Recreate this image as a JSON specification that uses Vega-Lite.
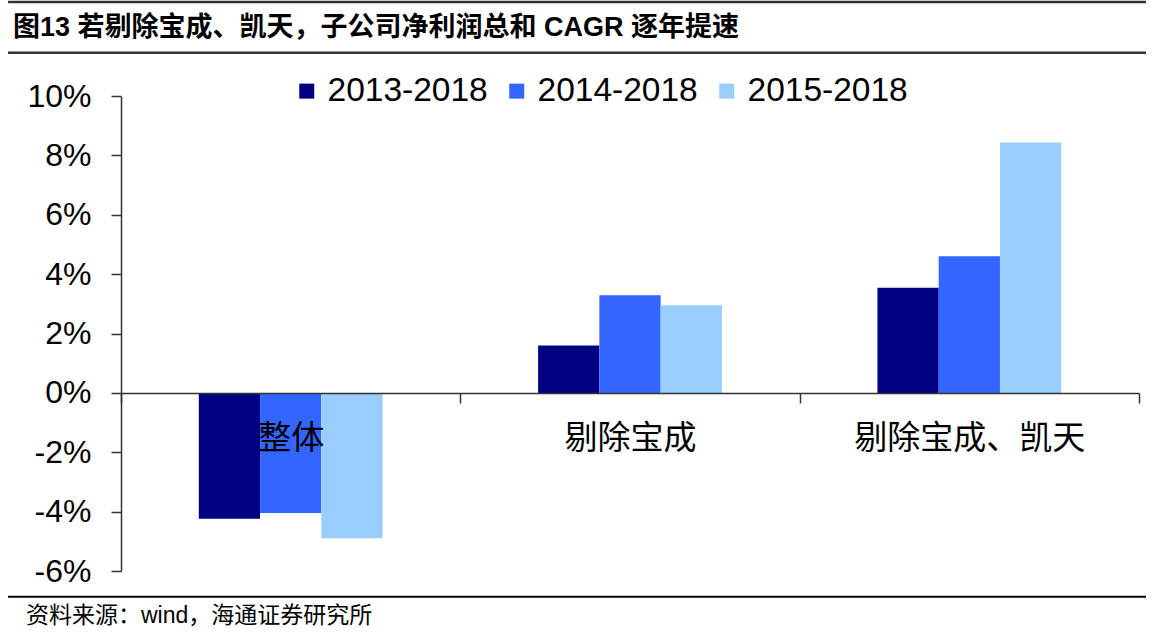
{
  "$schema": "https://vega.github.io/schema/vega-lite/v6.json",
  "background": "white",
  "padding": {"left": 6, "top": 0, "right": 7, "bottom": 0},
  "spacing": 0,
  "resolve": {"legend": {"color": "independent"}},
  "config": {"view": {"stroke": null}, "font": "Liberation Sans, Noto Sans CJK SC"},
  "datasets": {
    "bars": [
      {"cat": "整体", "period": "2013-2018", "value": -4.24},
      {"cat": "整体", "period": "2014-2018", "value": -4.05},
      {"cat": "整体", "period": "2015-2018", "value": -4.9},
      {"cat": "剔除宝成", "period": "2013-2018", "value": 1.6},
      {"cat": "剔除宝成", "period": "2014-2018", "value": 3.29},
      {"cat": "剔除宝成", "period": "2015-2018", "value": 2.95},
      {"cat": "剔除宝成、凯天", "period": "2013-2018", "value": 3.54},
      {"cat": "剔除宝成、凯天", "period": "2014-2018", "value": 4.6},
      {"cat": "剔除宝成、凯天", "period": "2015-2018", "value": 8.43}
    ]
  },
  "vconcat": [
    {
      "width": 1025,
      "height": 72,
      "layer": [
        {
          "data": {"values": [{"x": -0.1102, "x2": 1, "y": 1}, {"x": -0.1102, "x2": 1, "y": 0.295}]},
          "mark": {"type": "rule", "color": "#333333", "strokeWidth": 2.5},
          "encoding": {
            "x": {"field": "x", "type": "quantitative", "scale": {"domain": [0, 1], "nice": false, "zero": false}, "axis": null},
            "x2": {"field": "x2"},
            "y": {"field": "y", "type": "quantitative", "scale": {"domain": [0, 1], "nice": false, "zero": false}, "axis": null}
          }
        },
        {
          "data": {"values": [{"x": -0.1054, "y": 0.642, "t": "图13 若剔除宝成、凯天，子公司净利润总和 CAGR 逐年提速"}]},
          "mark": {"type": "text", "align": "left", "baseline": "middle", "fontSize": 27, "fontWeight": "bold", "color": "#000000", "font": "Liberation Sans, Noto Sans CJK SC"},
          "encoding": {
            "x": {"field": "x", "type": "quantitative", "scale": {"domain": [0, 1], "nice": false, "zero": false}, "axis": null},
            "y": {"field": "y", "type": "quantitative", "scale": {"domain": [0, 1], "nice": false, "zero": false}, "axis": null},
            "text": {"field": "t"}
          }
        }
      ]
    },
    {
      "width": 1018,
      "height": 475,
      "data": {"name": "bars"},
      "mark": {"type": "bar"},
      "encoding": {
        "x": {
          "field": "cat", "type": "nominal",
          "sort": ["整体", "剔除宝成", "剔除宝成、凯天"],
          "scale": {"paddingInner": 0, "paddingOuter": 0},
          "axis": {
            "title": null, "orient": "bottom", "offset": -178, "zindex": 1,
            "tickBand": "extent", "tickSize": 10, "tickColor": "#333333", "tickWidth": 1.5,
            "domainColor": "#333333", "domainWidth": 1.5,
            "labelAngle": 0, "labelFont": "Noto Sans CJK SC", "labelFontSize": 33, "labelLimit": 0,
            "labelColor": "#000000", "labelPadding": 19, "labelBaseline": "top", "grid": false
          }
        },
        "xOffset": {
          "field": "period", "type": "nominal",
          "scale": {"domain": ["pad-left", "2013-2018", "2014-2018", "2015-2018", "pad-right"], "paddingInner": 0, "paddingOuter": 0.27}
        },
        "y": {
          "field": "value", "type": "quantitative",
          "scale": {"domain": [-6, 10], "nice": false, "zero": false},
          "axis": {
            "title": null, "values": [-6, -4, -2, 0, 2, 4, 6, 8, 10],
            "labelExpr": "datum.value + '%'", "grid": false,
            "tickSize": 10, "tickColor": "#333333", "tickWidth": 1.5,
            "domainColor": "#333333", "domainWidth": 1.5,
            "labelFont": "Liberation Sans", "labelFontSize": 32, "labelColor": "#000000",
            "labelPadding": 20
          }
        },
        "color": {
          "field": "period", "type": "nominal",
          "scale": {"domain": ["2013-2018", "2014-2018", "2015-2018"], "range": ["#000080", "#3366FF", "#99CCFF"]},
          "legend": {
            "title": null, "orient": "none", "direction": "horizontal",
            "legendX": 169, "legendY": -22, "padding": 0,
            "symbolType": "square", "symbolSize": 225, "symbolStrokeWidth": 0,
            "labelFont": "Liberation Sans", "labelFontSize": 33.5, "labelColor": "#000000", "labelLimit": 0,
            "labelOffset": 4, "columnPadding": 12
          }
        }
      }
    },
    {
      "width": 1025,
      "height": 55,
      "layer": [
        {
          "data": {"values": [{"x": -0.1102, "x2": 1, "y": 0.824}]},
          "mark": {"type": "rule", "color": "#000000", "strokeWidth": 2},
          "encoding": {
            "x": {"field": "x", "type": "quantitative", "scale": {"domain": [0, 1], "nice": false, "zero": false}, "axis": null},
            "x2": {"field": "x2"},
            "y": {"field": "y", "type": "quantitative", "scale": {"domain": [0, 1], "nice": false, "zero": false}, "axis": null}
          }
        },
        {
          "data": {"values": [{"x": -0.0927, "y": 0.478, "t": "资料来源：wind，海通证券研究所"}]},
          "mark": {"type": "text", "align": "left", "baseline": "middle", "fontSize": 23, "color": "#000000", "font": "Liberation Sans, Noto Sans CJK SC"},
          "encoding": {
            "x": {"field": "x", "type": "quantitative", "scale": {"domain": [0, 1], "nice": false, "zero": false}, "axis": null},
            "y": {"field": "y", "type": "quantitative", "scale": {"domain": [0, 1], "nice": false, "zero": false}, "axis": null},
            "text": {"field": "t"}
          }
        }
      ]
    }
  ]
}
